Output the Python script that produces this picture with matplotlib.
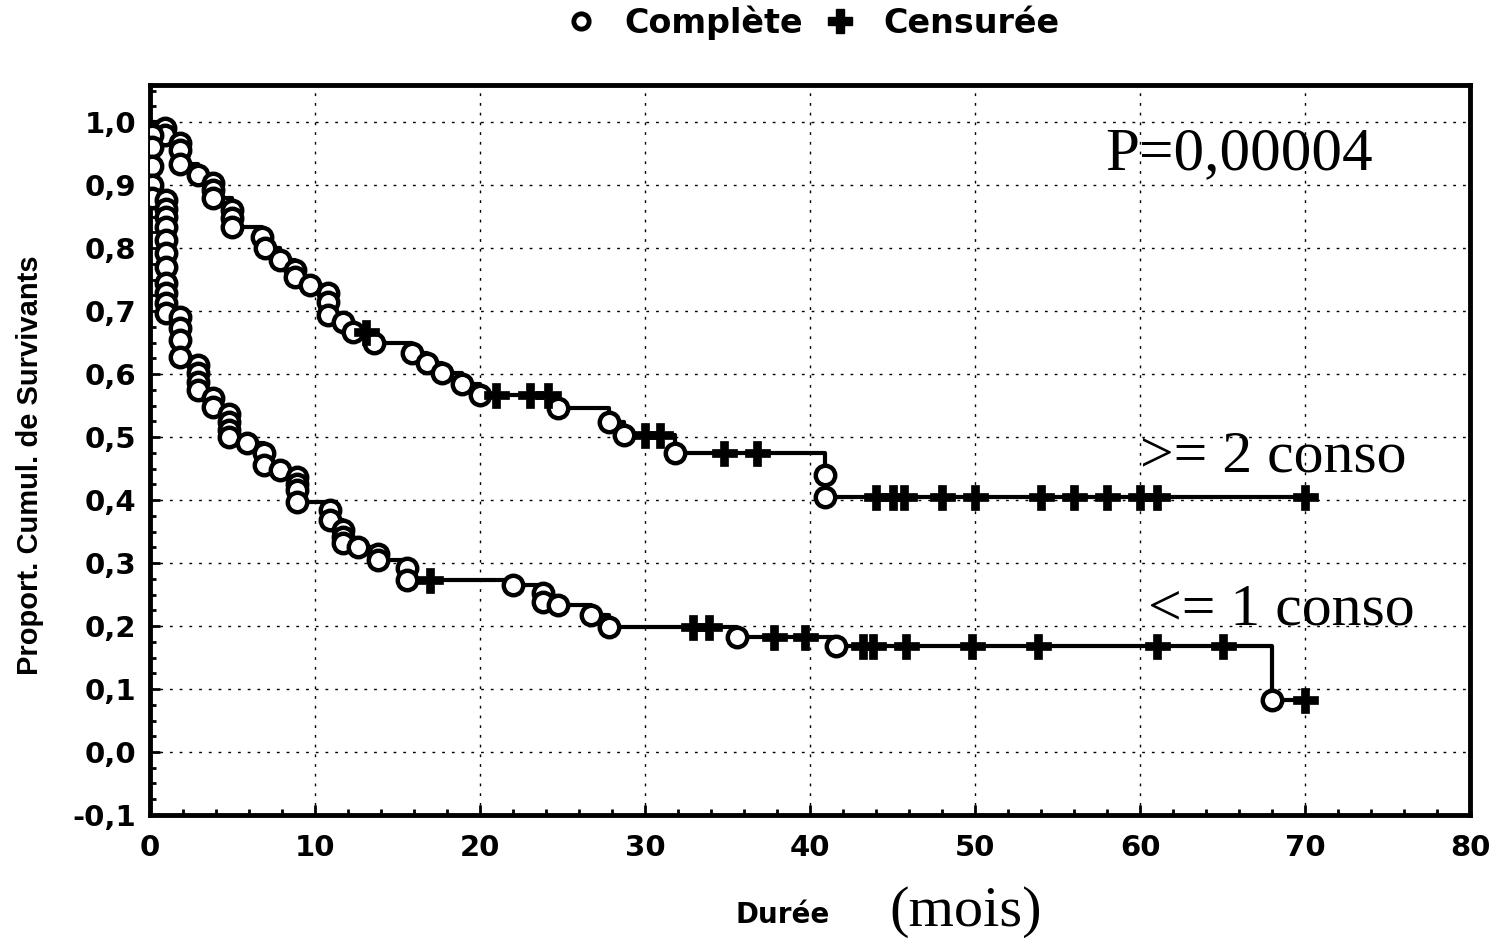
import matplotlib
matplotlib.use("Agg")
import matplotlib.pyplot as plt
from matplotlib.lines import Line2D
from matplotlib.ticker import MultipleLocator, FuncFormatter

# groupe >= 2 conso : temps de deces (mois) et survie juste apres
haut_t = [0.9, 0.9, 1.8, 1.8, 1.8, 2.9, 3.8, 3.8, 3.8, 5.0, 5.0, 5.0,
          6.8, 7.0, 7.9, 8.8, 8.8, 9.7, 10.8, 10.8, 10.8, 11.7, 12.3,
          13.6, 15.9, 16.8, 17.7, 18.9, 20.0, 24.7, 27.8, 28.7, 31.8,
          40.9, 40.9]
haut_s = [0.99, 0.98, 0.967, 0.956, 0.933, 0.916, 0.903, 0.892, 0.879,
          0.86, 0.848, 0.833, 0.817, 0.80, 0.781, 0.765, 0.754, 0.741,
          0.729, 0.714, 0.694, 0.683, 0.667, 0.650, 0.633, 0.617, 0.601,
          0.584, 0.567, 0.546, 0.524, 0.503, 0.475, 0.44, 0.405]
haut_cens = [13.1, 21.0, 23.0, 24.1, 30.0, 30.9, 34.8, 36.8, 44.0, 45.0,
             45.7, 48.0, 50.0, 54.0, 56.0, 58.0, 60.0, 61.0, 70.0]

# groupe <= 1 conso
bas_t = [0.1, 0.1, 0.1, 0.1, 0.1,
         1.0, 1.0, 1.0, 1.0, 1.0, 1.0, 1.0, 1.0, 1.0, 1.0, 1.0,
         1.8, 1.8, 1.8, 1.8, 2.9, 2.9, 2.9, 2.9, 3.8, 3.8,
         4.8, 4.8, 4.8, 4.8, 5.9, 6.9, 6.9, 7.9, 8.9, 8.9, 8.9, 8.9,
         10.9, 10.9, 11.7, 11.7, 11.7, 12.6, 13.8, 13.8, 15.6, 15.6,
         22.0, 23.8, 23.8, 24.7, 26.7, 27.8, 35.6, 41.6, 68.0]
bas_s = [0.98, 0.96, 0.93, 0.90, 0.88,
         0.876, 0.862, 0.849, 0.833, 0.813, 0.792, 0.770, 0.744, 0.729,
         0.713, 0.697,
         0.69, 0.673, 0.654, 0.627, 0.614, 0.601, 0.588, 0.575, 0.562, 0.548,
         0.536, 0.524, 0.512, 0.50, 0.49, 0.474, 0.456, 0.448,
         0.437, 0.426, 0.416, 0.397, 0.384, 0.368, 0.352, 0.341, 0.332,
         0.325, 0.315, 0.305, 0.292, 0.273,
         0.265, 0.252, 0.238, 0.233, 0.217, 0.199, 0.183, 0.168, 0.083]
bas_cens = [17.0, 32.9, 33.9, 37.8, 39.7, 43.2, 43.8, 45.8, 49.8, 53.8,
            61.0, 65.0, 70.0]

y_ticks = [-0.1, 0.0, 0.1, 0.2, 0.3, 0.4, 0.5, 0.6, 0.7, 0.8, 0.9, 1.0]
x_ticks = [0, 10, 20, 30, 40, 50, 60, 70, 80]


def surv_at(t, times, surv):
    s = 1.0
    for ti, si in zip(times, surv):
        if ti <= t:
            s = si
    return s


def draw_curve(ax, times, surv, cens):
    end = max(cens + times)
    xs = [0] + times + [end]
    ys = [1.0] + surv + [surv[-1]]
    ax.step(xs, ys, where="post", color="black", lw=3, zorder=3)
    ax.plot(times, surv, "o", ms=14, mfc="white", mec="black", mew=3.2,
            zorder=4)
    cy = [surv_at(c, times, surv) for c in cens]
    ax.plot(cens, cy, "P", ms=18, mfc="black", mec="black", mew=0.5,
            zorder=5)


fig = plt.figure(figsize=(15.06, 9.4), dpi=100)
ax = fig.add_axes([0.0996, 0.133, 0.8765, 0.7766])

draw_curve(ax, haut_t, haut_s, haut_cens)
draw_curve(ax, bas_t, bas_s, bas_cens)

ax.set_xlim(0, 80)
ax.set_ylim(-0.1, 1.059)
ax.set_xticks(x_ticks)
ax.set_yticks(y_ticks)
ax.xaxis.set_minor_locator(MultipleLocator(2))
ax.yaxis.set_minor_locator(MultipleLocator(0.025))
ax.yaxis.set_major_formatter(FuncFormatter(lambda v, p: f"{v:.1f}".replace(".", ",")))
ax.tick_params(which="both", direction="in", width=2)
ax.tick_params(which="major", length=7)
ax.tick_params(axis="x", which="major", pad=14)
ax.tick_params(axis="y", which="major", pad=10)
ax.tick_params(which="minor", length=4)
for lab in ax.get_xticklabels() + ax.get_yticklabels():
    lab.set_fontsize(21)
    lab.set_fontweight("bold")
    lab.set_family("DejaVu Sans")
for sp in ax.spines.values():
    sp.set_linewidth(3.5)

ax.grid(True, which="major", color="black", lw=1, linestyle=(0, (2, 5)))

serif = "Liberation Serif"
ax.text(57.9, 0.948, "P=0,00004", fontsize=44, family=serif, va="center")
ax.text(60.0, 0.468, ">= 2 conso", fontsize=43, family=serif, va="center")
ax.text(60.5, 0.225, "<= 1 conso", fontsize=43, family=serif, va="center")

fig.text(0.02, 0.505, "Proport. Cumul. de Survivants", rotation=90,
         fontsize=21, family="Liberation Sans", weight="bold",
         ha="center", va="center")
fig.text(0.52, 0.027, "Durée", fontsize=20, family="DejaVu Sans",
         weight="bold", ha="center", va="center")
fig.text(0.641, 0.03, "(mois)", fontsize=42, family=serif,
         ha="center", va="center")

handles = [Line2D([], [], ls="none", marker="o", ms=11, mfc="white",
                  mec="black", mew=3.5),
           Line2D([], [], ls="none", marker="P", ms=17, color="black")]
fig.legend(handles, ["Complète", "Censurée"], loc="center",
           bbox_to_anchor=(0.538, 0.976), ncol=2, frameon=False,
           prop={"family": "DejaVu Sans", "size": 24, "weight": "bold"},
           handletextpad=0.7, columnspacing=0.5, handlelength=1.2)

fig.savefig("out.png", dpi=100)
